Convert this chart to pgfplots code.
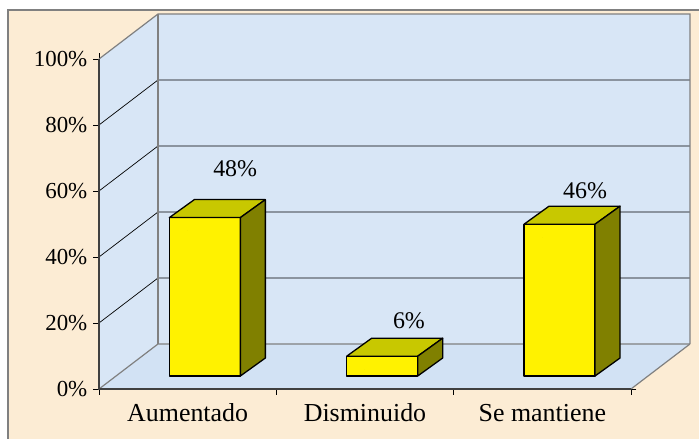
\documentclass[border=0pt]{standalone}
\usepackage{fontspec}
\setmainfont{Liberation Serif}
\usepackage{pgfplots}
\usepackage{pgfplotstable}
\pgfplotsset{compat=1.18}
\definecolor{beige}{RGB}{252,236,212}
\definecolor{wall}{RGB}{216,230,246}
\definecolor{floorc}{RGB}{210,226,244}
\definecolor{edge}{RGB}{128,128,128}
\definecolor{bartop}{RGB}{200,200,0}
\definecolor{barside}{RGB}{128,128,0}
\pgfplotstableread{
x v
0.5 48
1.5 6
2.5 46
}\datatable
\begin{document}
\begin{tikzpicture}
\useasboundingbox (-99bp,-50bp) rectangle (600bp,389bp);
\fill[white] (-99bp,-50bp) rectangle (600bp,389bp);
\fill[beige] (-91bp,-50bp) rectangle (600bp,379bp);
\draw[edge, line width=1.2bp] (-91bp,-51bp) -- (-91bp,379bp) -- (601bp,379bp);
\begin{axis}[
  at={(0,0)}, anchor=origin,
  x=177.33bp, y=3.3bp,
  xmin=0, xmax=3, ymin=0, ymax=100,
  clip=false,
  axis line style={draw=none},
  xtick={0,1,2,3},
  x tick label as interval,
  xticklabels={Aumentado,Disminuido,Se mantiene},
  ytick={0,20,40,60,80,100},
  yticklabels={0\%,20\%,40\%,60\%,80\%,100\%},
  tick align=outside,
  major tick length=5.5bp,
  tick style={black, line width=0.8bp},
  xticklabel style={font=\fontsize{26}{30}\selectfont, anchor=base, inner sep=0pt, yshift=-27bp},
  yticklabel style={font=\fontsize{23}{27}\selectfont, anchor=east, inner sep=0pt, xshift=-6bp},
]
% walls and floor
\fill[wall] (axis cs:0,0) -- (axis cs:0,100) -- (axis cs:0.3327,113.64) -- (axis cs:0.3327,13.64) -- cycle;
\fill[wall] (axis cs:0.3327,13.64) rectangle (axis cs:3.3327,113.64);
\fill[floorc] (axis cs:0,0) -- (axis cs:3,0) -- (axis cs:3.3327,13.64) -- (axis cs:0.3327,13.64) -- cycle;
% gridlines
\draw[black, line width=0.7bp] (axis cs:0,20) -- (axis cs:0.3327,33.64) -- (axis cs:3.3327,33.64);
\draw[black, line width=0.7bp] (axis cs:0,40) -- (axis cs:0.3327,53.64) -- (axis cs:3.3327,53.64);
\draw[black, line width=0.7bp] (axis cs:0,60) -- (axis cs:0.3327,73.64) -- (axis cs:3.3327,73.64);
\draw[black, line width=0.7bp] (axis cs:0,80) -- (axis cs:0.3327,93.64) -- (axis cs:3.3327,93.64);
% edges
\draw[edge, line width=1.2bp] (axis cs:0,100) -- (axis cs:0.3327,113.64) -- (axis cs:3.3327,113.64) -- (axis cs:3.3327,13.64);
\draw[edge, line width=1.2bp] (axis cs:0.3327,113.64) -- (axis cs:0.3327,13.64);
\draw[edge, line width=1.2bp] (axis cs:0,0) -- (axis cs:0.3327,13.64) -- (axis cs:3.3327,13.64);
\draw[edge, line width=1.2bp] (axis cs:3,0) -- (axis cs:3.3327,13.64);
\draw[black!75, line width=1.2bp] (axis cs:0,100) -- (axis cs:0,0) -- (axis cs:3,0);
% bars
\addplot[scatter, only marks, mark=*, mark size=0pt,
  scatter/use mapped color={draw=none,fill=none},
  visualization depends on={rawy \as \val},
  scatter/@pre marker code/.code={%
    \pgfmathsetmacro\barbot{13-\val*3.3}%
    \pgfmathsetmacro\barsbot{31-\val*3.3}%
    \filldraw[fill=yellow, draw=black, line width=1.3bp, line join=round] (-18.3bp,13bp) rectangle (52.7bp,\barbot bp);
    \filldraw[fill=bartop, draw=black, line width=1.3bp, line join=round] (-18.3bp,13bp) -- (52.7bp,13bp) -- (77.7bp,31bp) -- (6.7bp,31bp) -- cycle;
    \filldraw[fill=barside, draw=black, line width=1.3bp, line join=round] (52.7bp,13bp) -- (77.7bp,31bp) -- (77.7bp,\barsbot bp) -- (52.7bp,\barbot bp) -- cycle;
  },
  scatter/@post marker code/.code={}
] table[x=x,y=v]{\datatable};
% data labels
\node[font=\fontsize{24}{28}\selectfont, anchor=base, inner sep=0pt] at (axis cs:0.768,64.5) {48\%};
\node[font=\fontsize{24}{28}\selectfont, anchor=base, inner sep=0pt] at (axis cs:1.748,18.2) {6\%};
\node[font=\fontsize{24}{28}\selectfont, anchor=base, inner sep=0pt] at (axis cs:2.741,57.6) {46\%};
\end{axis}
\end{tikzpicture}
\end{document}
